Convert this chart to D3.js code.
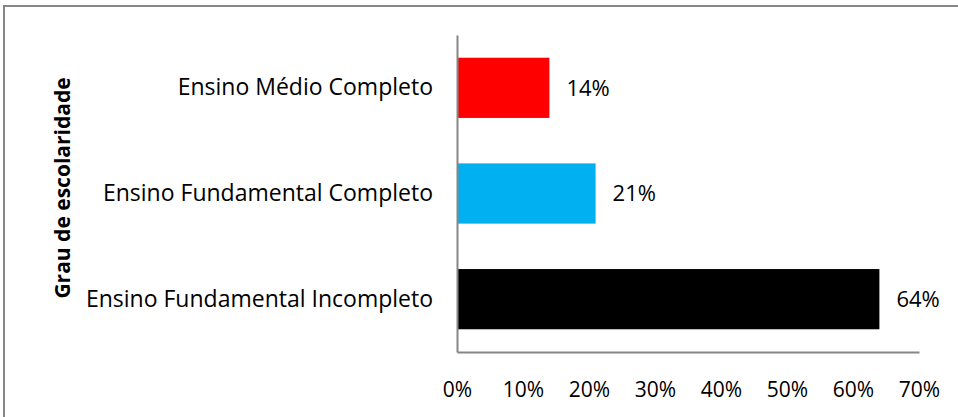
<!DOCTYPE html>
<html>
<head>
<meta charset="utf-8">
<script src="https://cdn.jsdelivr.net/npm/d3@7"></script>
<style>
  body { margin: 0; background: #fff; }
  text { font-family: "Open Sans", sans-serif; fill: #000; }
</style>
</head>
<body>
<script>
// Data
var categories = ['Ensino Médio Completo', 'Ensino Fundamental Completo', 'Ensino Fundamental Incompleto'];
var values = [0.14, 0.21, 0.64];
var colors = ['#ff0000', '#00b0f0', '#000000'];
var tickValues = [0, 0.1, 0.2, 0.3, 0.4, 0.5, 0.6, 0.7];
var axisTitle = 'Grau de escolaridade';

var w = 958,
    h = 417;

// plot area edges
var plotLeft = 457, plotRight = 919, plotTop = 35, plotBottom = 352;

var svg = d3.select('body')
            .append('svg')
            .attr('width', w)
            .attr('height', h);

// outer chart border (runs off the right/bottom edge)
svg.append('rect')
   .attr('x', 4)
   .attr('y', 6)
   .attr('width', w + 10)
   .attr('height', h + 10)
   .attr('fill', 'none')
   .attr('stroke', '#868686')
   .attr('stroke-width', 2);

var xScale = d3.scaleLinear()
               .domain([0, 0.7])
               .range([plotLeft, plotRight]);

var yScale = d3.scaleBand()
               .domain(categories)
               .range([plotTop, plotBottom])
               .paddingInner(0.43)
               .paddingOuter(0.215);

// bars
svg.selectAll('rect.bar')
   .data(values)
   .enter()
   .append('rect')
   .attr('class', 'bar')
   .attr('x', xScale(0))
   .attr('y', function(d, i) { return yScale(categories[i]); })
   .attr('width', function(d) { return xScale(d) - xScale(0); })
   .attr('height', yScale.bandwidth())
   .attr('fill', function(d, i) { return colors[i]; });

// value labels
svg.selectAll('text.val')
   .data(values)
   .enter()
   .append('text')
   .attr('class', 'val')
   .attr('x', function(d) { return xScale(d) + 17; })
   .attr('y', function(d, i) { return yScale(categories[i]) + yScale.bandwidth() / 2; })
   .attr('dy', '0.36em')
   .style('font-size', '22px')
   .text(function(d) { return Math.round(d * 100) + '%'; });

// x axis
var xAxis = d3.axisBottom(xScale)
              .tickValues(tickValues)
              .tickSize(0)
              .tickPadding(30)
              .tickFormat(d3.format('.0%'));

var gx = svg.append('g')
   .attr('class', 'x axis')
   .attr('transform', 'translate(0,' + plotBottom + ')')
   .call(xAxis);
gx.select('.domain').attr('stroke', '#868686').attr('stroke-width', 2);
gx.selectAll('text').style('font-size', '21px').style('font-family', '"Open Sans", sans-serif');

// y axis
var yAxis = d3.axisLeft(yScale)
              .tickSize(0)
              .tickPadding(24);

var gy = svg.append('g')
   .attr('class', 'y axis')
   .attr('transform', 'translate(' + plotLeft + ',0)')
   .call(yAxis);
gy.select('.domain').attr('stroke', '#868686').attr('stroke-width', 2);
gy.selectAll('text').style('font-size', '23px').style('font-family', '"Open Sans", sans-serif');

// y axis title
svg.append('text')
   .attr('transform', 'translate(70,188) rotate(-90)')
   .attr('text-anchor', 'middle')
   .style('font-size', '21px')
   .style('font-weight', 'bold')
   .text(axisTitle);
</script>
</body>
</html>
